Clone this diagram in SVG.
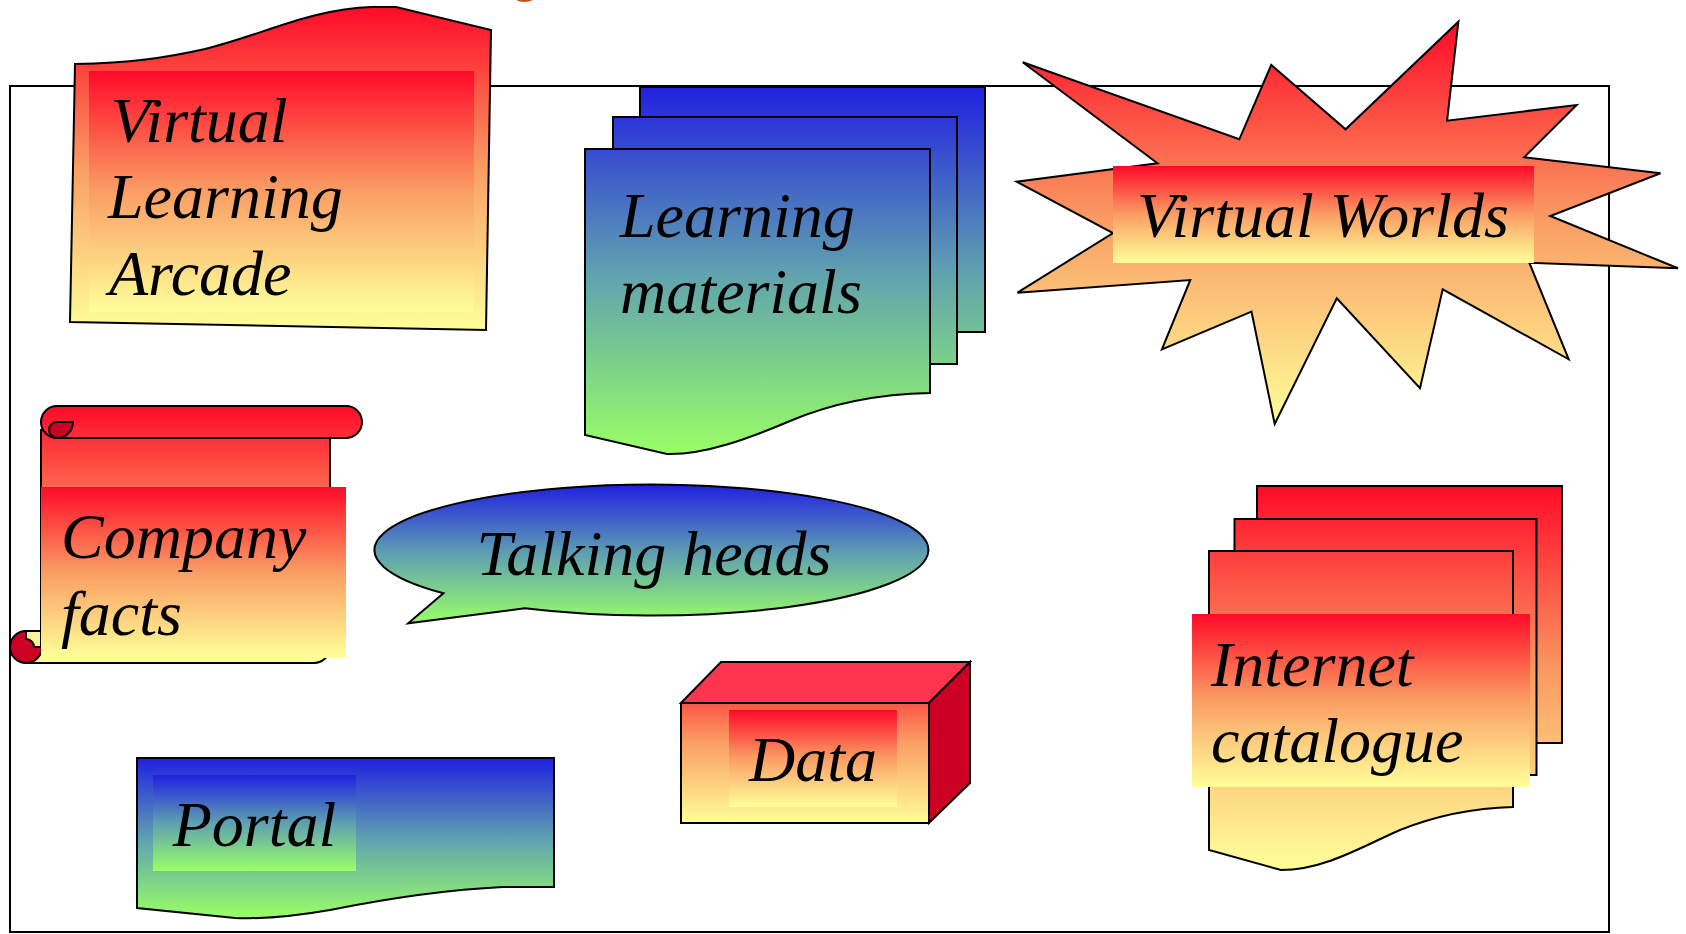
<svg xmlns="http://www.w3.org/2000/svg" width="1686" height="934" viewBox="0 0 1686 934">
<defs>
<style>
.ln{stroke:#000;stroke-width:2;stroke-linejoin:miter}
.lbl{font-family:"Liberation Serif","Times New Roman",serif;font-style:italic;font-size:64px;fill:#000}
.dark{fill:#CC0022}
</style>
<linearGradient id="fire" x1="0" y1="0" x2="0" y2="1"><stop offset="0" stop-color="#FF0A28"/><stop offset="0.5" stop-color="#FA9E64"/><stop offset="1" stop-color="#FFFF99"/></linearGradient>
<linearGradient id="sea" x1="0" y1="0" x2="0" y2="1"><stop offset="0" stop-color="#2020E0"/><stop offset="0.5" stop-color="#5FA0B0"/><stop offset="1" stop-color="#99FF66"/></linearGradient>
<linearGradient id="seaStack" href="#sea" gradientUnits="userSpaceOnUse" x1="0" y1="87" x2="0" y2="454"/>
<linearGradient id="fireStack" href="#fire" gradientUnits="userSpaceOnUse" x1="0" y1="486" x2="0" y2="870"/>
<linearGradient id="fireScroll" href="#fire" gradientUnits="userSpaceOnUse" x1="0" y1="406" x2="0" y2="663"/>
<linearGradient id="fireData" href="#fire" gradientUnits="userSpaceOnUse" x1="0" y1="662" x2="0" y2="823"/>
</defs>
<rect width="1686" height="934" fill="#fff"/>
<g id="title-fragment"><path d="M516,0 Q524,4 533,0 Z" fill="#C8500F"/></g>
<g id="frame"><rect class="ln" x="10" y="86" width="1599" height="846" fill="none"/></g>
<g id="connectors"/>
<g id="virtual-learning-arcade">
<path class="ln" fill="url(#fire)" d="M75,64 C130,63 165,58 205,49 C265,34 310,9 372,7 L396,7 L491,30 L486,330 L70,322 Z"/>
<rect x="89" y="71" width="385" height="241" fill="url(#fire)"/>
<text class="lbl" x="111" y="142">Virtual</text>
<text class="lbl" x="108" y="218">Learning</text>
<text class="lbl" x="109" y="295">Arcade</text>
</g>
<g id="learning-materials">
<rect class="ln" x="640" y="87" width="345" height="245" fill="url(#seaStack)"/>
<rect class="ln" x="613" y="117" width="344" height="247" fill="url(#seaStack)"/>
<path class="ln" fill="url(#seaStack)" d="M585,149 H930 V393 C880,394 830,404 790,421 C750,438 705,455 667,454 L585,435 Z"/>
<text class="lbl" x="620" y="237">Learning</text>
<text class="lbl" x="620" y="313">materials</text>
</g>
<g id="virtual-worlds">
<polygon class="ln" fill="url(#fire)" points="1022.7,62.3 1239.3,139.3 1271.2,65 1345.6,129.3 1458.4,21.7 1447.1,120.7 1576.6,105 1524.1,157.3 1660.5,173.3 1550.3,216 1678,268.3 1529.3,262.7 1568.7,359.3 1442.7,289.3 1420,388.3 1336.8,298.3 1274.7,424 1251.5,311.7 1161.9,349.3 1190.3,280 1017.5,292.7 1113,233 1016.6,181.7 1157.5,163.3"/>
<rect x="1113" y="166" width="421" height="97" fill="url(#fire)"/>
<text class="lbl" x="1323" y="237" text-anchor="middle">Virtual Worlds</text>
</g>
<g id="company-facts">
<path class="ln" fill="url(#fireScroll)" d="M41,430 V647 H26 V663 H314 A16,16 0 0 0 330,647 V430 Z"/>
<circle class="ln dark" cx="26" cy="647" r="16"/>
<path class="ln" fill="#FFF594" d="M26,631 H41 V647 H34 A8,8 0 0 0 26,639 Z"/>
<path class="ln" fill="url(#fireScroll)" d="M57,406 H346 A16,16 0 0 1 346,438 H57 A16,16 0 0 1 57,406 Z"/>
<path class="ln dark" d="M73,422 A16,16 0 0 1 57,438 A8,8 0 0 1 57,422 Z"/>
<rect x="41" y="487" width="305" height="171" fill="url(#fire)"/>
<text class="lbl" x="61" y="558">Company</text>
<text class="lbl" x="61" y="635">facts</text>
</g>
<g id="talking-heads">
<path class="ln" fill="url(#sea)" d="M443.4,593.3 A277,65.5 0 1 1 524.8,608.3 L408.2,623.3 Z"/>
<text class="lbl" x="654" y="575" text-anchor="middle">Talking heads</text>
</g>
<g id="data">
<polygon class="ln" fill="#FF3550" points="681,703 721,662 970,662 929,703"/>
<polygon class="ln dark" points="929,703 970,662 970,783 929,823"/>
<rect class="ln" x="681" y="703" width="248" height="120" fill="url(#fireData)"/>
<rect x="729" y="710" width="168" height="97" fill="url(#fire)"/>
<text class="lbl" x="813" y="781" text-anchor="middle">Data</text>
</g>
<g id="portal">
<path class="ln" fill="url(#sea)" d="M137,758 H554 V887 H503 C440,890 380,900 330,910 C290,917 260,919 235,918 L137,908 Z"/>
<rect x="153" y="775" width="203" height="96" fill="url(#sea)"/>
<text class="lbl" x="254.5" y="846" text-anchor="middle">Portal</text>
</g>
<g id="internet-catalogue">
<rect class="ln" x="1257" y="486" width="305" height="257" fill="url(#fireStack)"/>
<rect class="ln" x="1234.5" y="519" width="302" height="256" fill="url(#fireStack)"/>
<path class="ln" fill="url(#fireStack)" d="M1209,551 H1513 V807 C1475,808 1435,816 1400,830 C1365,845 1325,870 1281,870 L1209,850 Z"/>
<rect x="1192" y="614" width="338" height="173" fill="url(#fire)"/>
<text class="lbl" x="1211" y="686">Internet</text>
<text class="lbl" x="1211" y="762">catalogue</text>
</g>
</svg>
